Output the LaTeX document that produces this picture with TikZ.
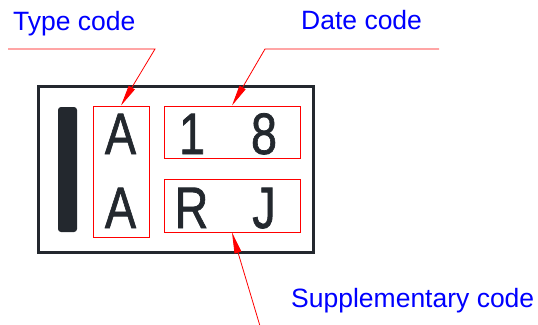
\documentclass[tikz,border=0pt]{standalone}
\usepackage{fontspec}
\setmainfont{Liberation Sans}
\newfontfamily\markfont{Liberation Sans}[BoldFont={Liberation Sans},BoldFeatures={FakeBold=1.3}]
\usetikzlibrary{arrows.meta}
\definecolor{ink}{HTML}{23282E}
\begin{document}
\begin{tikzpicture}[x=1pt,y=-1pt,
  redbox/.style={draw=red,line width=0.9pt,inner sep=0pt},
  leader/.style={draw=red,line width=0.8pt},
  tipped/.style={-{Triangle[length=21pt,width=7pt]}},
  lbl/.style={text=blue,font=\fontsize{26.5}{30}\selectfont,inner sep=0pt,anchor=base west},
  glyph/.style={text=ink,font=\markfont\bfseries\fontsize{58.5}{70}\selectfont,inner sep=0pt,anchor=base,xscale=0.8}]
\useasboundingbox (0,0) rectangle (538,324);
% outer frame
\draw[ink,line width=3pt] (38,86) rectangle (313,252);
% bar
\fill[ink,rounded corners=3pt] (58,107) rectangle (77,232);
% red boxes
\node[redbox,minimum width=56pt,minimum height=131pt] (typebox) at (121,171.5) {};
\node[redbox,minimum width=136pt,minimum height=52pt] (datebox) at (232,132) {};
\node[redbox,minimum width=136pt,minimum height=53pt] (suppbox) at (232,205.5) {};
% characters
\node[glyph] (a1) at (120.5,154) {A};
\node[glyph] (a2) at (120.5,228) {A};
\node[glyph] (c1) at (192,154) {1};
\node[glyph] (c8) at (264,154) {8};
\node[glyph] (cr) at (191.5,228) {R};
\node[glyph] (cj) at (264,228) {J};
% labels
\node[lbl] (tl) at (13,30) {Type code};
\node[lbl] (dl) at (301,29) {Date code};
\node[lbl] (sl) at (291,307) {Supplementary code};
% leaders
\coordinate (t1) at (8,49);
\coordinate (t2) at (155,49);
\coordinate (d1) at (439,49);
\coordinate (d2) at (265,49);
\coordinate (s1) at (260,326);
\draw[leader,tipped] (t1) -- (t2) -- (typebox.north);
\draw[leader,tipped] (d1) -- (d2) -- (datebox.north);
\draw[leader,tipped] (s1) -- (suppbox.south);
\end{tikzpicture}
\end{document}
